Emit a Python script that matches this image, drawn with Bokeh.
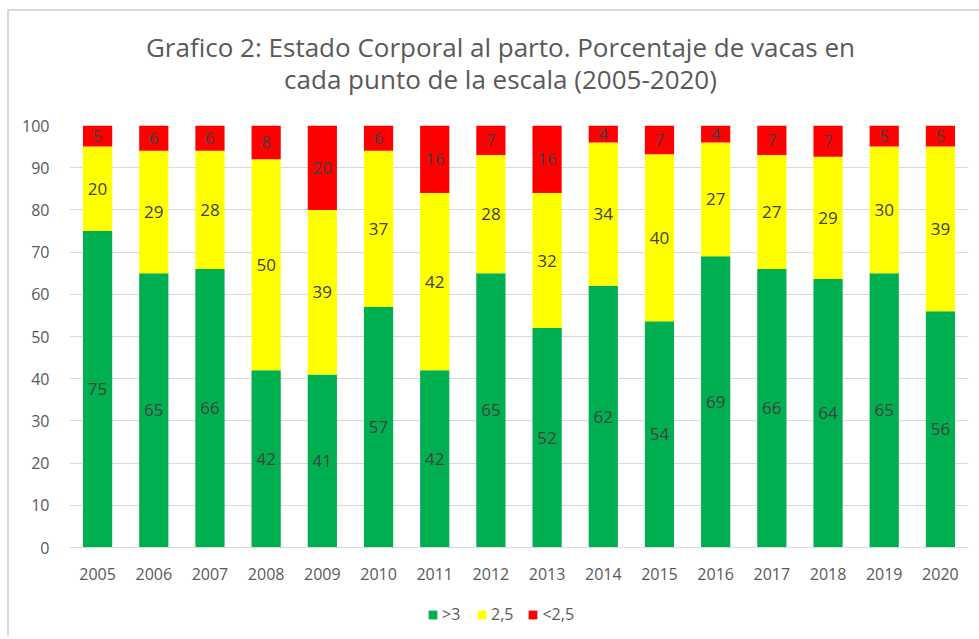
from bokeh.plotting import figure
from bokeh.layouts import column
from bokeh.models import ColumnDataSource, LabelSet, Legend, LegendItem, FixedTicker, Range1d
from bokeh.core.properties import value
from bokeh.embed import file_html
from bokeh.resources import INLINE

years = ["2005", "2006", "2007", "2008", "2009", "2010", "2011", "2012",
         "2013", "2014", "2015", "2016", "2017", "2018", "2019", "2020"]
mayor3 = [75, 65, 66, 42, 41, 57, 42, 65, 52, 62, 53.6, 69, 66, 63.6, 65, 56]
medio25 = [20, 29, 28, 50, 39, 37, 42, 28, 32, 34, 39.6, 27, 27, 29, 30, 39]
menor25 = [5, 6, 6, 8, 20, 6, 16, 7, 16, 4, 6.8, 4, 7, 7.4, 5, 5]
series_names = [">3", "2,5", "<2,5"]
colors = ["#00B050", "#FFFF00", "#FF0000"]
title_lines = ["Grafico 2: Estado Corporal al parto. Porcentaje de vacas en",
               "cada punto de la escala (2005-2020)"]

FONT = "Open Sans"
GRAY = "#595959"
FW = 899          # frame width shared by all strips
TH = 104          # title strip height
LH = 44           # legend strip height


def strip(h):
    f = figure(frame_width=FW, frame_height=h, x_range=Range1d(0, FW), y_range=Range1d(0, h),
               x_axis_type=None, y_axis_type=None, output_backend="svg",
               toolbar_location=None, min_border=0)
    f.grid.visible = False
    f.outline_line_color = None
    return f


# ---- title strip ----
tf = strip(TH)
tsrc = ColumnDataSource(dict(x=[431, 431], y=[69, 37], t=title_lines))
tf.text(x="x", y="y", text="t", source=tsrc, text_align="center", text_baseline="middle",
        text_font=value(FONT), text_font_size="26px", text_color=GRAY)

# ---- main chart ----
keys = ["g", "y", "r"]
src = ColumnDataSource(dict(x=years, g=mayor3, y=medio25, r=menor25))

p = figure(x_range=years, frame_width=FW, frame_height=422, output_backend="svg",
           toolbar_location=None, min_border_left=60, min_border_right=11,
           min_border_top=10, min_border_bottom=45)
p.y_range = Range1d(0, 100)

renderers = p.vbar_stack(keys, x="x", width=0.52, color=colors, source=src,
                         line_color=None)

lbl_x, lbl_y, lbl_t = [], [], []
for i, yr in enumerate(years):
    base = 0
    for arr in (mayor3, medio25, menor25):
        v = arr[i]
        lbl_x.append(yr)
        lbl_y.append(base + v / 2)
        lbl_t.append(f"{round(v + 1e-9):d}")
        base += v
lsrc = ColumnDataSource(dict(x=lbl_x, y=lbl_y, t=lbl_t))
p.add_layout(LabelSet(x="x", y="y", text="t", source=lsrc, text_align="center",
                      text_baseline="middle", text_font=value(FONT),
                      text_font_size="17px", text_color="#404040"))

p.xgrid.grid_line_color = None
p.ygrid.grid_line_color = "#D9D9D9"
p.ygrid.ticker = FixedTicker(ticks=list(range(0, 101, 10)))
p.yaxis.ticker = FixedTicker(ticks=list(range(0, 101, 10)))
p.yaxis.axis_line_color = None
p.yaxis.major_tick_line_color = None
p.yaxis.minor_tick_line_color = None
p.xaxis.axis_line_color = "#D9D9D9"
p.xaxis.major_tick_line_color = None
p.xaxis.minor_tick_line_color = None
for ax in (p.xaxis, p.yaxis):
    ax.major_label_text_font = FONT
    ax.major_label_text_font_size = "16px"
    ax.major_label_text_color = GRAY
p.xaxis.major_label_standoff = 14
p.yaxis.major_label_standoff = 14
p.outline_line_color = None
p.x_range.range_padding = 0.0

# ---- legend strip (legend-only swatch renderers: zero-height, off-frame) ----
lf = strip(LH)
sw = [lf.vbar(x=[-50], bottom=[0], top=[0], width=1, color=c, line_color=None)
      for c in colors]
legend = Legend(items=[LegendItem(label=n, renderers=[r]) for n, r in zip(series_names, sw)],
                orientation="horizontal", location=(418, 11),
                label_text_font=FONT, label_text_font_size="16px",
                label_text_color=GRAY, glyph_width=11, glyph_height=11,
                spacing=14, label_standoff=4, border_line_color=None,
                background_fill_alpha=0, padding=0, margin=0)
lf.add_layout(legend, "center")

layout = column(tf, p, lf, spacing=0)
layout.styles = {"margin": "9px 0 0 7px", "border-top": "2px solid #D9D9D9",
                 "border-left": "2px solid #D9D9D9"}

open("out.html", "w").write(file_html(layout, INLINE))
